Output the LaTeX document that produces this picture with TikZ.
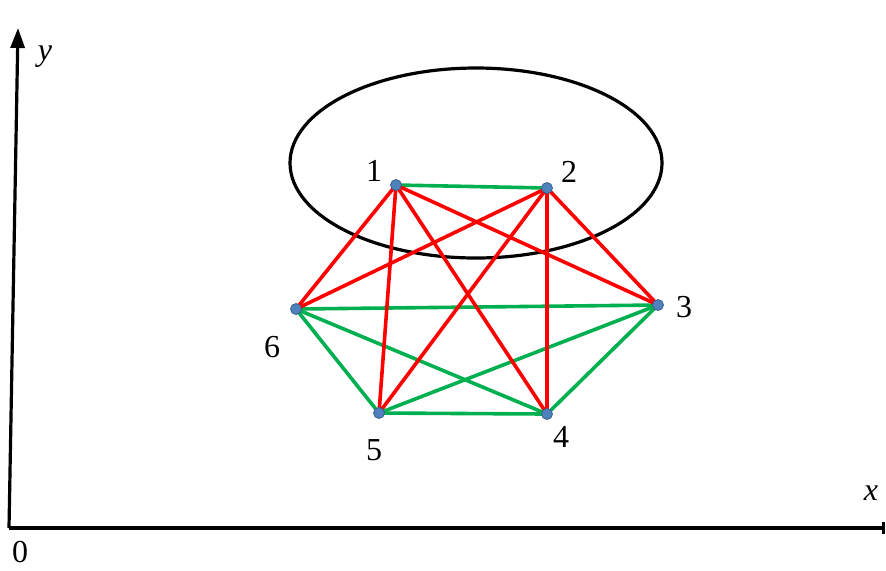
\documentclass[tikz,border=0pt]{standalone}
\usepackage{fontspec}
\setmainfont{Liberation Serif}
\usetikzlibrary{arrows.meta}
\definecolor{dotblue}{HTML}{4F81BD}
\definecolor{edgered}{HTML}{FF0000}
\definecolor{edgegreen}{HTML}{00B050}

\begin{document}
\begin{tikzpicture}[
    x=0.5pt, y=-0.5pt,
    vertex/.style={circle, fill=dotblue, draw=dotblue!75!black, line width=0.4pt,
                   inner sep=0pt, minimum size=5.5pt},
    redge/.style={draw=edgered, line width=1.8pt},
    gedge/.style={draw=edgegreen, line width=1.8pt},
    axis/.style={line width=1.6pt},
    lbl/.style={inner sep=0pt, font=\fontsize{16}{18}\selectfont}
  ]
  \useasboundingbox (0,0) rectangle (886,570);

  % axes
  \coordinate (O) at (9,528);
  \coordinate (ytop) at (18,28);
  \coordinate (xend) at (885,528);
  \draw[axis, -{Triangle[length=10pt, width=7pt]}] (O) -- (ytop);
  \draw[axis, -{Bar[width=6pt]}] (O) -- (xend);
  \node[lbl] (ylab) at (45,57) {\textit{y}};
  \node[lbl] (xlab) at (871,493) {\textit{x}};
  \node[lbl] (zero) at (20,552) {0};

  % ellipse
  \draw[line width=1.6pt] (476,163) ellipse [x radius=186, y radius=95];

  % vertices
  \coordinate (v1) at (396,185);
  \coordinate (v2) at (547,188);
  \coordinate (v3) at (658,305);
  \coordinate (v4) at (547,414);
  \coordinate (v5) at (379,413);
  \coordinate (v6) at (296,309);

  % green edges
  \foreach \a/\b in {1/2, 6/3, 6/4, 6/5, 5/3, 5/4, 4/3}
    \draw[gedge] (v\a) -- (v\b);
  % red edges
  \foreach \a in {1,2}
    \foreach \b in {3,4,5,6}
      \draw[redge] (v\a) -- (v\b);

  \foreach \i in {1,...,6}
    \node[vertex] (n\i) at (v\i) {};

  % vertex labels
  \node[lbl] (l1) at (374,171) {1};
  \node[lbl] (l2) at (569,172) {2};
  \node[lbl] (l3) at (684,307) {3};
  \node[lbl] (l4) at (561,437) {4};
  \node[lbl] (l5) at (374,450) {5};
  \node[lbl] (l6) at (272,347) {6};
\end{tikzpicture}
\end{document}
